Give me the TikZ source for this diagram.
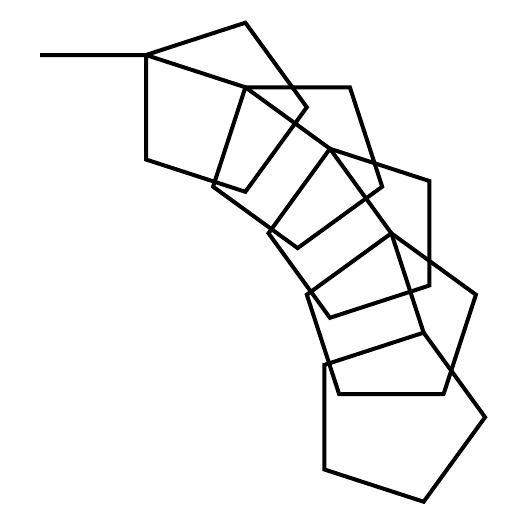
\documentclass[tikz,border=0pt]{standalone}
\begin{document}
\begin{tikzpicture}[x=1pt,y=1pt,edge/.style={line width=4pt,black,line join=miter}]
\useasboundingbox (0,-525) rectangle (525,0);
\def\side{104.5}
\coordinate (start) at (40,-55);
\coordinate (v0) at (146,-55);
\path (v0) ++(-18:\side) coordinate (v1) ++(-36:\side) coordinate (v2)
      ++(-54:\side) coordinate (v3) ++(-72:\side) coordinate (v4);
\draw[edge] (start) -- (v0) -- (v1) -- (v2) -- (v3) -- (v4);
\foreach \k/\a in {0/18,1/0,2/-18,3/-36,4/-54}{
  \draw[edge] (v\k) -- ++(\a:\side) -- ++(\a-72:\side) -- ++(\a-144:\side) -- ++(\a-216:\side) -- cycle;
}
\end{tikzpicture}
\end{document}
